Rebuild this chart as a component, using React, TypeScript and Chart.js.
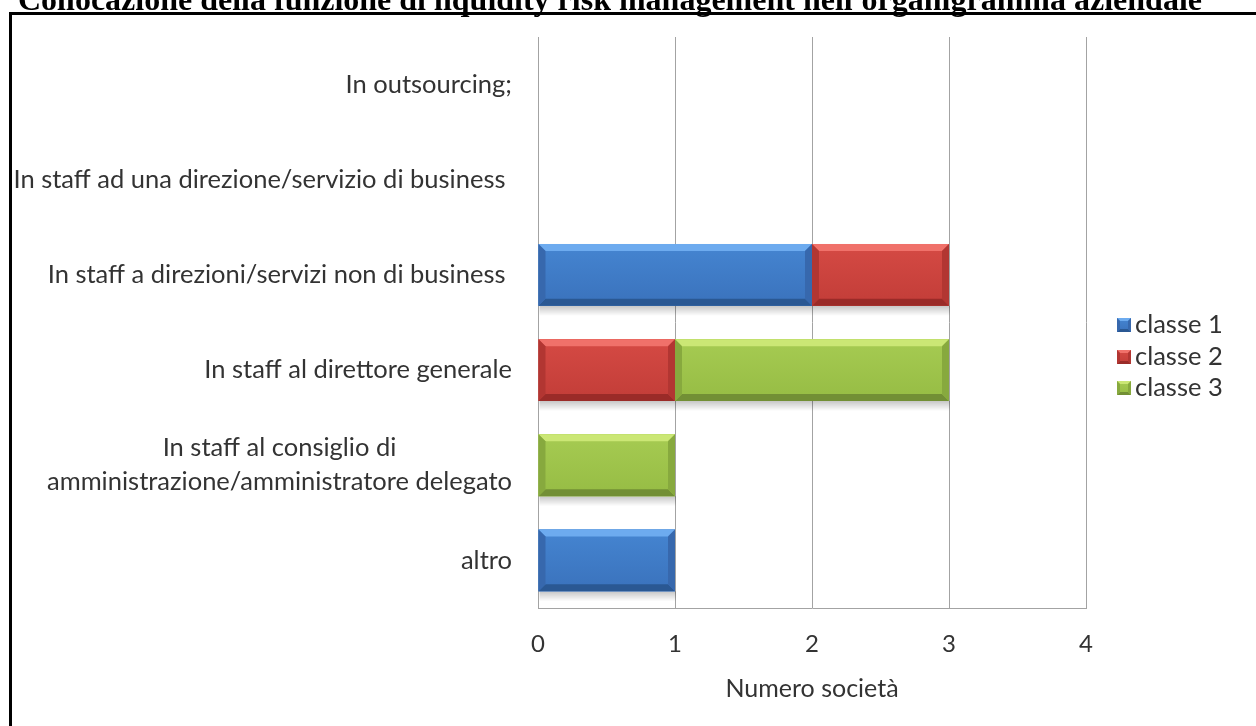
import React, { useEffect, useRef } from "react";
import { Chart, registerables } from "chart.js";

Chart.register(...registerables);

// ---- data ----
const categories: (string | string[])[] = [
  "In outsourcing;",
  "In staff ad una direzione/servizio di business ",
  "In staff a direzioni/servizi non di business ",
  "In staff al direttore generale",
  ["In staff al consiglio di", "amministrazione/amministratore delegato"],
  "altro",
];
const seriesNames = ["classe 1", "classe 2", "classe 3"];
const classe1 = [0, 0, 2, 0, 0, 1];
const classe2 = [0, 0, 1, 1, 0, 0];
const classe3 = [0, 0, 0, 2, 1, 0];
const xTicks = [0, 1, 2, 3, 4];
const xTitle = "Numero società";
const title =
  "Collocazione della funzione di liquidity risk management nell'organigramma aziendale";

// ---- styling ----
const W = 1256;
const H = 726;
const FONT = "Lato, 'Open Sans', 'DejaVu Sans', sans-serif";
const TEXT = "#333333";
const GRID = "#a3a3a3";

type Shade = { face: string; faceLo: string; top: string; bottom: string; side: string };
const shades: Shade[] = [
  { face: "#4585d1", faceLo: "#3a72bc", top: "#6dabef", bottom: "#2a5893", side: "#3768ad" },
  { face: "#d54a44", faceLo: "#c23d38", top: "#f0716a", bottom: "#9a2b28", side: "#b23632" },
  { face: "#a6cb52", faceLo: "#96bc44", top: "#cbe775", bottom: "#728f35", side: "#87a93e" },
];

const PLOT = { left: 538, right: 1086, top: 37, bottom: 608 };
const LABEL_GAP = 26;
const LABEL_SIZE = 25.5;
const LABEL_LINE = 34;
const LEGEND = { squareX: 1117, textX: 1135, rows: [325, 357, 388], size: 14 };

function bevelRect(ctx: CanvasRenderingContext2D, l: number, t: number, r: number, b: number, s: Shade, bv: number) {
  const w = r - l;
  const h = b - t;
  if (w < 1 || h < 1) return;
  const e = Math.min(bv, w / 2, h / 2);
  const g = ctx.createLinearGradient(0, t, 0, b);
  g.addColorStop(0, s.face);
  g.addColorStop(1, s.faceLo);
  ctx.fillStyle = g;
  ctx.fillRect(l, t, w, h);
  // top edge
  ctx.fillStyle = s.top;
  ctx.beginPath();
  ctx.moveTo(l, t);
  ctx.lineTo(r, t);
  ctx.lineTo(r - e, t + e);
  ctx.lineTo(l + e, t + e);
  ctx.closePath();
  ctx.fill();
  // bottom edge
  ctx.fillStyle = s.bottom;
  ctx.beginPath();
  ctx.moveTo(l, b);
  ctx.lineTo(r, b);
  ctx.lineTo(r - e, b - e);
  ctx.lineTo(l + e, b - e);
  ctx.closePath();
  ctx.fill();
  // side edges
  ctx.fillStyle = s.side;
  ctx.beginPath();
  ctx.moveTo(l, t);
  ctx.lineTo(l + e, t + e);
  ctx.lineTo(l + e, b - e);
  ctx.lineTo(l, b);
  ctx.closePath();
  ctx.fill();
  ctx.beginPath();
  ctx.moveTo(r, t);
  ctx.lineTo(r - e, t + e);
  ctx.lineTo(r - e, b - e);
  ctx.lineTo(r, b);
  ctx.closePath();
  ctx.fill();
}

function barBounds(el: any) {
  const { x, y, base, height } = el.getProps(["x", "y", "base", "height"], true);
  return {
    left: Math.min(x, base),
    right: Math.max(x, base),
    top: y - height / 2,
    bottom: y + height / 2,
  };
}

// Soft shadow under each bar segment, then bevelled faces on top.
const bevelBars = {
  id: "bevelBars",
  beforeDatasetsDraw(chart: any) {
    const ctx: CanvasRenderingContext2D = chart.ctx;
    ctx.save();
    chart.data.datasets.forEach((_: any, di: number) => {
      chart.getDatasetMeta(di).data.forEach((el: any) => {
        const bb = barBounds(el);
        if (bb.right - bb.left < 1) return;
        const g = ctx.createLinearGradient(0, bb.bottom, 0, bb.bottom + 10);
        g.addColorStop(0, "rgba(0,0,0,0.22)");
        g.addColorStop(1, "rgba(0,0,0,0)");
        ctx.fillStyle = g;
        ctx.fillRect(bb.left + 1, bb.bottom, bb.right - bb.left, 10);
      });
    });
    ctx.restore();
  },
  afterDatasetsDraw(chart: any) {
    const ctx: CanvasRenderingContext2D = chart.ctx;
    ctx.save();
    chart.data.datasets.forEach((_: any, di: number) => {
      chart.getDatasetMeta(di).data.forEach((el: any) => {
        const bb = barBounds(el);
        bevelRect(ctx, bb.left, bb.top, bb.right, bb.bottom, shades[di], 7);
      });
    });
    ctx.restore();
  },
};

// Category names, right-aligned beside the axis; wrapped names are centred on each other.
const categoryLabels = {
  id: "categoryLabels",
  afterDraw(chart: any) {
    const ctx: CanvasRenderingContext2D = chart.ctx;
    const y = chart.scales.y;
    ctx.save();
    ctx.font = `${LABEL_SIZE}px ${FONT}`;
    ctx.fillStyle = TEXT;
    ctx.textBaseline = "middle";
    ctx.textAlign = "center";
    const right = y.right - LABEL_GAP;
    (chart.data.labels as (string | string[])[]).forEach((label, i) => {
      const lines = Array.isArray(label) ? label : [label];
      const maxW = Math.max(...lines.map((l) => ctx.measureText(l).width));
      const cx = right - maxW / 2;
      const yc = y.getPixelForValue(i);
      lines.forEach((l, k) => {
        ctx.fillText(l, cx, yc + (k - (lines.length - 1) / 2) * LABEL_LINE);
      });
    });
    ctx.restore();
  },
};

const legendBox = {
  id: "legendBox",
  afterDraw(chart: any) {
    const ctx: CanvasRenderingContext2D = chart.ctx;
    ctx.save();
    ctx.font = `${LABEL_SIZE}px ${FONT}`;
    ctx.textBaseline = "middle";
    ctx.textAlign = "left";
    chart.data.datasets.forEach((ds: any, di: number) => {
      const cy = LEGEND.rows[di];
      const s = LEGEND.size;
      bevelRect(ctx, LEGEND.squareX, cy - s / 2, LEGEND.squareX + s, cy + s / 2, shades[di], 3);
      ctx.fillStyle = TEXT;
      ctx.fillText(ds.label, LEGEND.textX, cy);
    });
    ctx.restore();
  },
};

export default function App() {
  const canvasRef = useRef<HTMLCanvasElement | null>(null);

  useEffect(() => {
    const canvas = canvasRef.current;
    if (!canvas) return;
    const values = [classe1, classe2, classe3];
    const chart = new Chart(canvas, {
      type: "bar",
      data: {
        labels: categories as any,
        datasets: values.map((v, i) => ({
          label: seriesNames[i],
          data: v,
          backgroundColor: shades[i].face,
          borderWidth: 0,
          barPercentage: 0.65,
          categoryPercentage: 1,
        })),
      },
      options: {
        indexAxis: "y",
        responsive: false,
        animation: false,
        devicePixelRatio: 1,
        layout: {
          padding: { top: PLOT.top, right: W - PLOT.right, left: 0, bottom: 0 },
        },
        plugins: {
          legend: { display: false },
          tooltip: { enabled: false },
        },
        scales: {
          x: {
            stacked: true,
            min: xTicks[0],
            max: xTicks[xTicks.length - 1],
            afterFit: (s: any) => {
              s.height = H - PLOT.bottom;
            },
            afterBuildTicks: (s: any) => {
              s.ticks = xTicks.map((v) => ({ value: v }));
            },
            ticks: {
              font: { family: FONT, size: 24 },
              color: TEXT,
              padding: 22,
            },
            grid: { color: GRID, lineWidth: 1, drawTicks: false },
            border: { display: true, color: GRID, width: 1 },
            title: {
              display: true,
              text: xTitle,
              font: { family: FONT, size: 25 },
              color: TEXT,
              padding: { top: 0, bottom: 22 },
            },
          },
          y: {
            stacked: true,
            afterFit: (s: any) => {
              s.width = PLOT.left;
            },
            ticks: { display: false },
            grid: { display: false, drawTicks: false },
            border: { display: true, color: GRID, width: 1 },
          },
        },
      },
      plugins: [bevelBars, categoryLabels, legendBox],
    });
    return () => chart.destroy();
  }, []);

  return (
    <div
      style={{
        position: "fixed",
        left: 0,
        top: 0,
        width: W,
        height: H,
        overflow: "hidden",
        background: "#ffffff",
      }}
    >
      <canvas ref={canvasRef} width={W} height={H} style={{ position: "absolute", left: 0, top: 0 }} />
      <div
        style={{
          position: "absolute",
          left: 9,
          top: 12,
          width: W,
          height: H,
          borderLeft: "3px solid #000",
          borderTop: "3px solid #000",
          boxSizing: "border-box",
          pointerEvents: "none",
        }}
      />
      <div
        style={{
          position: "absolute",
          left: 18,
          top: -19,
          lineHeight: "34px",
          whiteSpace: "nowrap",
          font: "bold 32px 'Liberation Serif', 'Times New Roman', serif",
          color: "#000",
        }}
      >
        {title}
      </div>
    </div>
  );
}
